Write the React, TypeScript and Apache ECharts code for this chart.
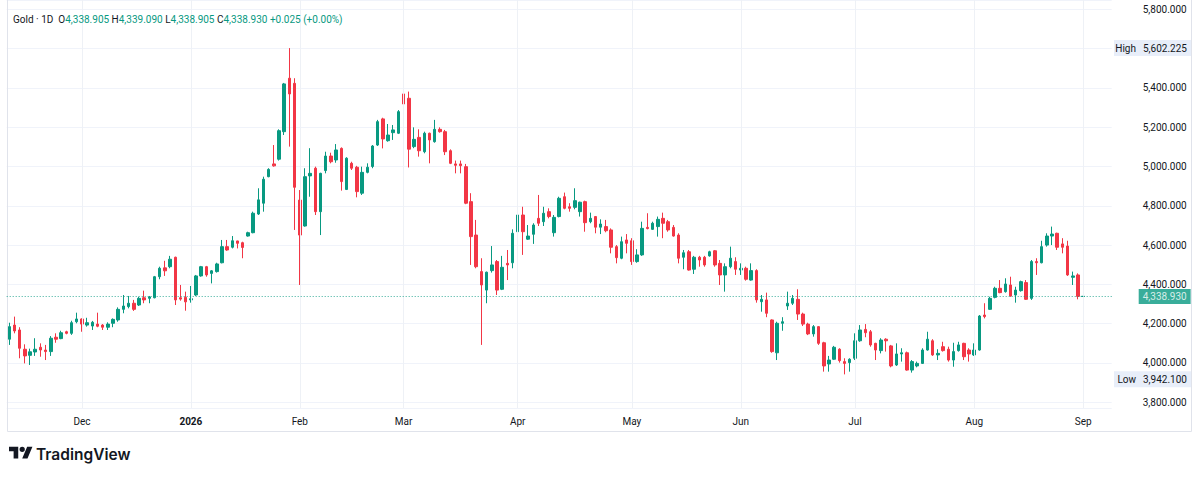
import { useEffect, useRef } from 'react';
import * as echarts from 'echarts';

// ---- data (daily bars, Gold 1D) ----
const START = [2025, 10, 11]; // 2025-11-11 (month is 0-based)
const HOLIDAYS = ['2025-12-25', '2025-12-26', '2026-01-01'];
const FUTURE_BARS = 5;
const SYMBOL_TITLE = 'Gold · 1D';
const MONTHS = ['Jan', 'Feb', 'Mar', 'Apr', 'May', 'Jun', 'Jul', 'Aug', 'Sep', 'Oct', 'Nov', 'Dec'];

const opens = [
  4121, 4193, 4168, 4070, 4039, 4056, 4080, 4066, 4058, 4131,
  4124, 4159, 4151, 4210, 4224, 4193, 4188, 4198, 4193, 4182,
  4202, 4219, 4273, 4287, 4304, 4295, 4332, 4329, 4332, 4439,
  4484, 4490, 4538, 4332, 4334, 4321, 4346, 4443, 4490, 4456,
  4465, 4510, 4592, 4589, 4621, 4612, 4646, 4663, 4758, 4813,
  4948, 5013, 5037, 5177, 5449, 5423, 4829, 4697, 4952, 4991,
  4770, 4979, 5053, 5033, 5092, 4883, 5016, 4996, 4864, 4970,
  5000, 5109, 5242, 5131, 5172, 5169, 5369, 5347, 5101, 5148,
  5075, 5169, 5126, 5189, 5177, 5080, 5013, 5013, 4999, 4821,
  4651, 4465, 4371, 4470, 4516, 4375, 4507, 4510, 4668, 4753,
  4630, 4655, 4736, 4719, 4770, 4663, 4745, 4846, 4795, 4792,
  4770, 4821, 4719, 4745, 4691, 4694, 4677, 4592, 4533, 4626,
  4622, 4516, 4550, 4690, 4680, 4694, 4736, 4719, 4690, 4651,
  4538, 4566, 4477, 4538, 4538, 4545, 4571, 4507, 4448, 4490,
  4516, 4473, 4482, 4422, 4470, 4312, 4321, 4219, 4052, 4202,
  4290, 4304, 4324, 4249, 4198, 4148, 4185, 4103, 3995, 4019,
  4070, 4007, 4002, 4024, 4113, 4171, 4159, 4100, 4063, 4121,
  4087, 3990, 4046, 4052, 3964, 3985, 3998, 4066, 4113, 4041,
  4083, 4070, 4015, 4063, 4100, 4066, 4041, 4066, 4244, 4273,
  4334, 4380, 4363, 4397, 4346, 4368, 4409, 4329, 4516, 4510,
  4600, 4646, 4660, 4606, 4595, 4436, 4448, 4338.905,
];
const highs = [
  4205, 4236, 4182, 4095, 4073, 4126, 4100, 4092, 4137, 4151,
  4164, 4164, 4215, 4256, 4227, 4230, 4214, 4256, 4198, 4207,
  4227, 4283, 4346, 4341, 4321, 4337, 4368, 4341, 4443, 4490,
  4520, 4545, 4541, 4397, 4363, 4392, 4448, 4494, 4494, 4473,
  4510, 4626, 4626, 4646, 4622, 4617, 4668, 4770, 4889, 4948,
  4991, 5109, 5189, 5425, 5602.225, 5449, 4880, 4991, 5093, 4999,
  4968, 5075, 5070, 5114, 5097, 5047, 5024, 5003, 4999, 5016,
  5109, 5237, 5248, 5216, 5211, 5287, 5423, 5381, 5199, 5189,
  5177, 5172, 5237, 5199, 5186, 5087, 5030, 5030, 5013, 4864,
  4728, 4533, 4465, 4595, 4524, 4545, 4575, 4680, 4787, 4795,
  4702, 4711, 4855, 4795, 4787, 4753, 4846, 4867, 4813, 4889,
  4821, 4826, 4765, 4748, 4731, 4728, 4685, 4600, 4643, 4656,
  4635, 4579, 4719, 4762, 4719, 4745, 4765, 4728, 4702, 4660,
  4575, 4575, 4545, 4545, 4545, 4571, 4575, 4524, 4507, 4592,
  4538, 4507, 4490, 4507, 4477, 4346, 4358, 4222, 4210, 4233,
  4363, 4346, 4375, 4256, 4205, 4193, 4188, 4108, 4036, 4087,
  4075, 4024, 4024, 4151, 4193, 4198, 4168, 4103, 4126, 4126,
  4092, 4100, 4075, 4058, 4015, 4007, 4075, 4159, 4121, 4070,
  4108, 4083, 4103, 4108, 4103, 4075, 4100, 4244, 4304, 4337,
  4388, 4422, 4431, 4439, 4388, 4419, 4422, 4524, 4533, 4622,
  4660, 4694, 4663, 4635, 4622, 4465, 4456, 4339.09,
];
const lows = [
  4092, 4151, 4024, 3998, 3990, 4036, 4032, 4015, 4036, 4103,
  4121, 4146, 4143, 4202, 4159, 4185, 4168, 4182, 4168, 4168,
  4182, 4210, 4253, 4278, 4265, 4290, 4304, 4304, 4329, 4426,
  4443, 4482, 4295, 4317, 4266, 4307, 4341, 4439, 4439, 4405,
  4460, 4507, 4571, 4583, 4583, 4533, 4643, 4660, 4753, 4770,
  4945, 4999, 5030, 5160, 5101, 4677, 4397, 4694, 4846, 4753,
  4651, 4965, 5016, 5019, 4877, 4880, 4982, 4843, 4855, 4965,
  4991, 5104, 5092, 5126, 5135, 5165, 5262, 4995, 5093, 5050,
  5067, 5016, 5121, 5172, 5058, 5012, 4965, 4965, 4808, 4499,
  4482, 4092, 4304, 4460, 4346, 4371, 4422, 4482, 4663, 4550,
  4626, 4606, 4697, 4697, 4736, 4643, 4741, 4782, 4770, 4782,
  4745, 4668, 4711, 4660, 4656, 4665, 4558, 4507, 4528, 4558,
  4499, 4510, 4545, 4680, 4677, 4643, 4635, 4668, 4643, 4507,
  4477, 4470, 4453, 4490, 4490, 4541, 4490, 4397, 4363, 4482,
  4448, 4448, 4419, 4419, 4307, 4261, 4233, 4052, 4015, 4164,
  4270, 4295, 4219, 4188, 4142, 4134, 4092, 3956, 3956, 4015,
  4002, 3942.1, 3956, 4015, 4108, 4131, 4083, 4015, 4049, 4058,
  3978, 3985, 4007, 3961, 3951, 3978, 3995, 4063, 4036, 4015,
  4058, 4007, 3981, 4058, 4015, 4007, 4036, 4063, 4227, 4270,
  4329, 4355, 4358, 4337, 4307, 4363, 4321, 4321, 4448, 4507,
  4592, 4600, 4575, 4558, 4443, 4397, 4324, 4338.905,
];
const closes = [
  4185, 4163, 4075, 4036, 4057, 4070, 4066, 4058, 4126, 4121,
  4154, 4151, 4205, 4224, 4198, 4205, 4207, 4187, 4182, 4198,
  4222, 4273, 4290, 4304, 4273, 4329, 4321, 4336, 4439, 4482,
  4469, 4528, 4321, 4325, 4311, 4327, 4443, 4490, 4448, 4469,
  4504, 4592, 4575, 4622, 4609, 4588, 4663, 4762, 4830, 4935,
  4985, 5003, 5182, 5420, 5369, 4894, 4651, 4948, 4965, 4770,
  4965, 5053, 5024, 5084, 4923, 5042, 4991, 4872, 4970, 4996,
  5104, 5228, 5140, 5160, 5186, 5279, 5318, 5088, 5138, 5080,
  5169, 5135, 5189, 5177, 5075, 5016, 5006, 5004, 4813, 4643,
  4490, 4397, 4462, 4499, 4371, 4487, 4499, 4660, 4753, 4668,
  4646, 4702, 4711, 4762, 4745, 4741, 4838, 4787, 4787, 4826,
  4818, 4714, 4736, 4691, 4707, 4673, 4589, 4536, 4617, 4609,
  4516, 4550, 4685, 4684, 4711, 4731, 4711, 4677, 4646, 4533,
  4561, 4473, 4538, 4524, 4499, 4566, 4499, 4448, 4490, 4533,
  4477, 4482, 4426, 4470, 4321, 4324, 4253, 4058, 4202, 4210,
  4304, 4329, 4249, 4198, 4148, 4185, 4100, 3985, 4015, 4080,
  4012, 3998, 4019, 4113, 4168, 4154, 4092, 4066, 4117, 4113,
  3985, 4046, 4052, 3964, 4007, 3998, 4066, 4121, 4041, 4049,
  4063, 4015, 4058, 4092, 4032, 4046, 4066, 4239, 4236, 4329,
  4380, 4358, 4402, 4341, 4371, 4414, 4324, 4516, 4510, 4592,
  4646, 4656, 4589, 4589, 4448, 4443, 4338.905, 4338.93,
];

// ---- view settings ----
const Y_MIN = 3771;
const Y_MAX = 5847;
const UP = '#089981';
const DOWN = '#F23645';
const TEXT = '#131722';
const FONT = 'Roboto';

const TV_LOGO = 'M14 22H7V11H0V4h14v18zM28 22h-8l7.5-18h8L28 22zM24 8a4 4 0 1 1-8 0a4 4 0 1 1 8 0z';
let logoRegistered = false;

function buildDates(total: number): string[] {
  const out: string[] = [];
  const d = new Date(Date.UTC(START[0], START[1], START[2]));
  while (out.length < total) {
    const dow = d.getUTCDay();
    const s = d.toISOString().slice(0, 10);
    if (dow !== 0 && dow !== 6 && !HOLIDAYS.includes(s)) out.push(s);
    d.setUTCDate(d.getUTCDate() + 1);
  }
  return out;
}

const fmt3 = (v: number) =>
  v.toLocaleString('en-US', { minimumFractionDigits: 3, maximumFractionDigits: 3 });

export default function App() {
  const ref = useRef<HTMLDivElement>(null);

  useEffect(() => {
    if (!ref.current) return;
    if (!logoRegistered) {
      echarts.graphic.registerShape('tvlogo', echarts.graphic.extendPath(TV_LOGO, {}) as any);
      logoRegistered = true;
    }
    const chart = echarts.init(ref.current, null, { renderer: 'svg' });

    const n = closes.length;
    const dates = buildDates(n + FUTURE_BARS);
    const monthStart = new Set<number>();
    for (let i = 1; i < dates.length; i++) {
      if (dates[i].slice(0, 7) !== dates[i - 1].slice(0, 7)) monthStart.add(i);
    }
    const ohlc = opens.map((o, i) => [o, closes[i], lows[i], highs[i]]);
    const last = n - 1;
    const lastClose = closes[last];
    const chg = closes[last] - closes[last - 1];
    const pct = (chg / closes[last - 1]) * 100;
    const sign = chg >= 0 ? '+' : '−';
    const valColor = chg >= 0 ? UP : DOWN;
    const maxHigh = Math.max(...highs);
    const minLow = Math.min(...lows);

    const monthLines = Array.from(monthStart).map((i) => ({
      xAxis: dates[i],
      lineStyle: { color: '#eef1f6', type: 'solid', width: 1 },
      label: { show: false },
    }));

    chart.setOption({
      animation: false,
      grid: { left: 6.7, right: 88.3, top: 0, bottom: 69 },
      xAxis: {
        type: 'category',
        data: dates,
        boundaryGap: true,
        axisLine: { show: false },
        axisTick: { show: false },
        splitLine: { show: false },
        axisLabel: {
          interval: (i: number) => monthStart.has(i),
          formatter: (v: string) => {
            const m = Number(v.slice(5, 7));
            return m === 1 ? `{y|${v.slice(0, 4)}}` : MONTHS[m - 1];
          },
          margin: 8,
          color: TEXT,
          fontSize: 10,
          fontFamily: FONT,
          rich: { y: { fontWeight: 'bold', fontSize: 10, color: TEXT, fontFamily: FONT } },
        },
      },
      yAxis: {
        type: 'value',
        position: 'right',
        min: Y_MIN,
        max: Y_MAX,
        splitNumber: 10,
        axisLine: { show: false },
        axisTick: { show: false },
        splitLine: { lineStyle: { color: '#f0f3fa', width: 1 } },
        axisLabel: {
          showMinLabel: false,
          showMaxLabel: false,
          align: 'left',
          margin: 31,
          formatter: (v: number) => fmt3(v),
          color: TEXT,
          fontSize: 10,
          fontFamily: FONT,
        },
      },
      series: [
        {
          type: 'line',
          data: [],
          z: 1,
          silent: true,
          markLine: { silent: true, symbol: ['none', 'none'], animation: false, data: monthLines },
        },
        {
          type: 'candlestick',
          z: 3,
          data: ohlc,
          barWidth: 3,
          itemStyle: { color: UP, color0: DOWN, borderColor: UP, borderColor0: DOWN, borderWidth: 1 },
          markLine: {
            silent: true,
            symbol: ['none', 'none'],
            animation: false,
            data: [
              {
                yAxis: lastClose,
                lineStyle: { color: UP, type: [1, 2], width: 1, opacity: 0.8 },
                label: {
                  show: true,
                  position: 'end',
                  distance: 27,
                  formatter: fmt3(lastClose),
                  backgroundColor: UP,
                  color: '#ffffff',
                  padding: [3, 4, 2, 4],
                  fontSize: 10,
                  fontFamily: FONT,
                },
              },
            ],
          },
        },
      ],
    });

    const yHigh = chart.convertToPixel({ yAxisIndex: 0 }, maxHigh) as number;
    const yLow = (chart.convertToPixel({ yAxisIndex: 0 }, minLow) as number) + 5;

    const legendText =
      `{t|${SYMBOL_TITLE}}  {k|O}{v|${fmt3(opens[last])}} {k|H}{v|${fmt3(highs[last])}} ` +
      `{k|L}{v|${fmt3(lows[last])}} {k|C}{v|${fmt3(closes[last])}} ` +
      `{v|${sign}${Math.abs(chg).toFixed(3)} (${sign}${Math.abs(pct).toFixed(2)}%)}`;

    const tag = (label: string, value: number, cy: number) => [
      { type: 'rect', shape: { x: 1114, y: cy - 8, width: 77, height: 16 }, style: { fill: '#e8eef9' }, z: 10 },
      {
        type: 'text', x: 1136, y: cy, z: 11,
        style: { text: label, fill: TEXT, font: `10px ${FONT}`, align: 'right', verticalAlign: 'middle' },
      },
      {
        type: 'text', x: 1143, y: cy, z: 11,
        style: { text: fmt3(value), fill: TEXT, font: `10px ${FONT}`, align: 'left', verticalAlign: 'middle' },
      },
    ];

    chart.setOption({
      graphic: [
        {
          type: 'text', x: 13, y: 19, z: 20,
          style: {
            text: legendText,
            verticalAlign: 'middle',
            font: `10px ${FONT}`,
            rich: {
              t: { fill: TEXT, font: `10px ${FONT}` },
              k: { fill: TEXT, font: `10px ${FONT}` },
              v: { fill: valColor, font: `10px ${FONT}` },
            },
          },
        },
        ...tag('High', maxHigh, yHigh),
        ...tag('Low', minLow, yLow),
        { type: 'line', shape: { x1: 7.5, y1: 0, x2: 7.5, y2: 431.5 }, style: { stroke: '#e0e3eb', lineWidth: 1 } },
        { type: 'line', shape: { x1: 1191.5, y1: 0, x2: 1191.5, y2: 431.5 }, style: { stroke: '#e0e3eb', lineWidth: 1 } },
        { type: 'line', shape: { x1: 7.5, y1: 431.5, x2: 1191.5, y2: 431.5 }, style: { stroke: '#e0e3eb', lineWidth: 1 } },
        { type: 'tvlogo', x: 9, y: 444, scaleX: 0.66, scaleY: 0.66, style: { fill: TEXT } },
        {
          type: 'text', x: 36, y: 454,
          style: { text: 'TradingView', fill: TEXT, font: `600 15.5px Inter`, verticalAlign: 'middle' },
        },
      ],
    });

    return () => chart.dispose();
  }, []);

  return (
    <div
      ref={ref}
      style={{ position: 'fixed', left: 0, top: 0, width: 1200, height: 477, background: '#ffffff' }}
    />
  );
}
